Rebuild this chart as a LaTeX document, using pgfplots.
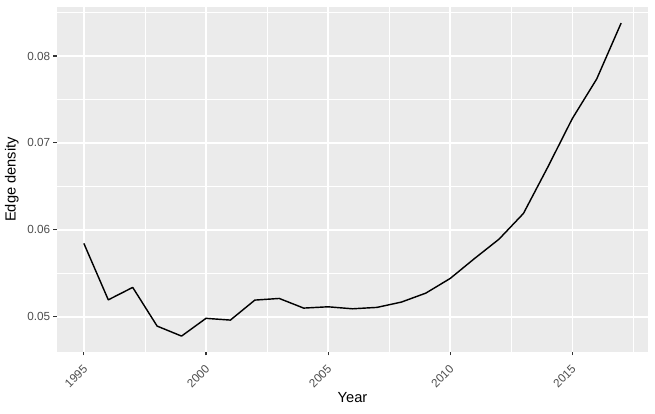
\documentclass[border=0pt]{standalone}
\usepackage{pgfplots}
\pgfplotsset{compat=1.18}
\usepackage{fontspec}
\setmainfont{Liberation Sans}
\definecolor{panelbg}{HTML}{EBEBEB}
\definecolor{ticktext}{HTML}{4D4D4D}
\definecolor{tickmark}{HTML}{333333}
\begin{document}
\begin{tikzpicture}
\useasboundingbox (0,0) rectangle (491.25pt,309.75pt);
\begin{axis}[
  at={(42.75pt,45.95pt)}, anchor=south west,
  scale only axis, width=443.25pt, height=258.3pt,
  xmin=1993.9, xmax=2018.1, ymin=0.04598, ymax=0.0856,
  axis background/.style={fill=panelbg},
  axis line style={draw=none},
  xtick={1995,2000,2005,2010,2015},
  ytick={0.05,0.06,0.07,0.08},
  minor xtick={1997.5,2002.5,2007.5,2012.5,2017.5},
  minor ytick={0.055,0.065,0.075,0.085},
  grid=both,
  major grid style={white, line width=1.07pt},
  minor grid style={white, line width=0.53pt},
  tick style={tickmark, line width=0.8pt},
  major tick length=2.75pt, minor tick length=0pt,
  tick align=outside, xtick pos=bottom, ytick pos=left,
  /pgf/number format/assume math mode=true,
  yticklabel style={/pgf/number format/fixed, /pgf/number format/precision=2, /pgf/number format/fixed zerofill, font=\fontsize{8.8}{10}\selectfont, text=ticktext, inner sep=0pt, xshift=-2.2pt},
  xticklabel style={/pgf/number format/set thousands separator={}, font=\fontsize{8.8}{10}\selectfont, text=ticktext, rotate=45, anchor=north east, inner sep=0pt, xshift=-5.2pt, yshift=-3.6pt},
  scaled y ticks=false,
  xlabel={Year}, ylabel={Edge density},
  label style={font=\fontsize{11}{13}\selectfont, text=black},
  xlabel style={at={(axis description cs:0.5,0)}, anchor=north, yshift=-30pt, inner sep=0pt},
  ylabel style={at={(axis description cs:-0.0643,0.5)}, anchor=south, inner sep=0pt},
  clip=false,
]
\addplot[black, line width=1.07pt, line join=round] coordinates {
(1995,0.05844)(1996,0.05195)(1997,0.05338)(1998,0.04893)(1999,0.04778)
(2000,0.04982)(2001,0.04962)(2002,0.05192)(2003,0.05211)(2004,0.05100)
(2005,0.05115)(2006,0.05092)(2007,0.05108)(2008,0.05169)(2009,0.05272)
(2010,0.05441)(2011,0.05671)(2012,0.05893)(2013,0.06189)(2014,0.06724)
(2015,0.07280)(2016,0.07736)(2017,0.08379)};
\end{axis}
\end{tikzpicture}
\end{document}
